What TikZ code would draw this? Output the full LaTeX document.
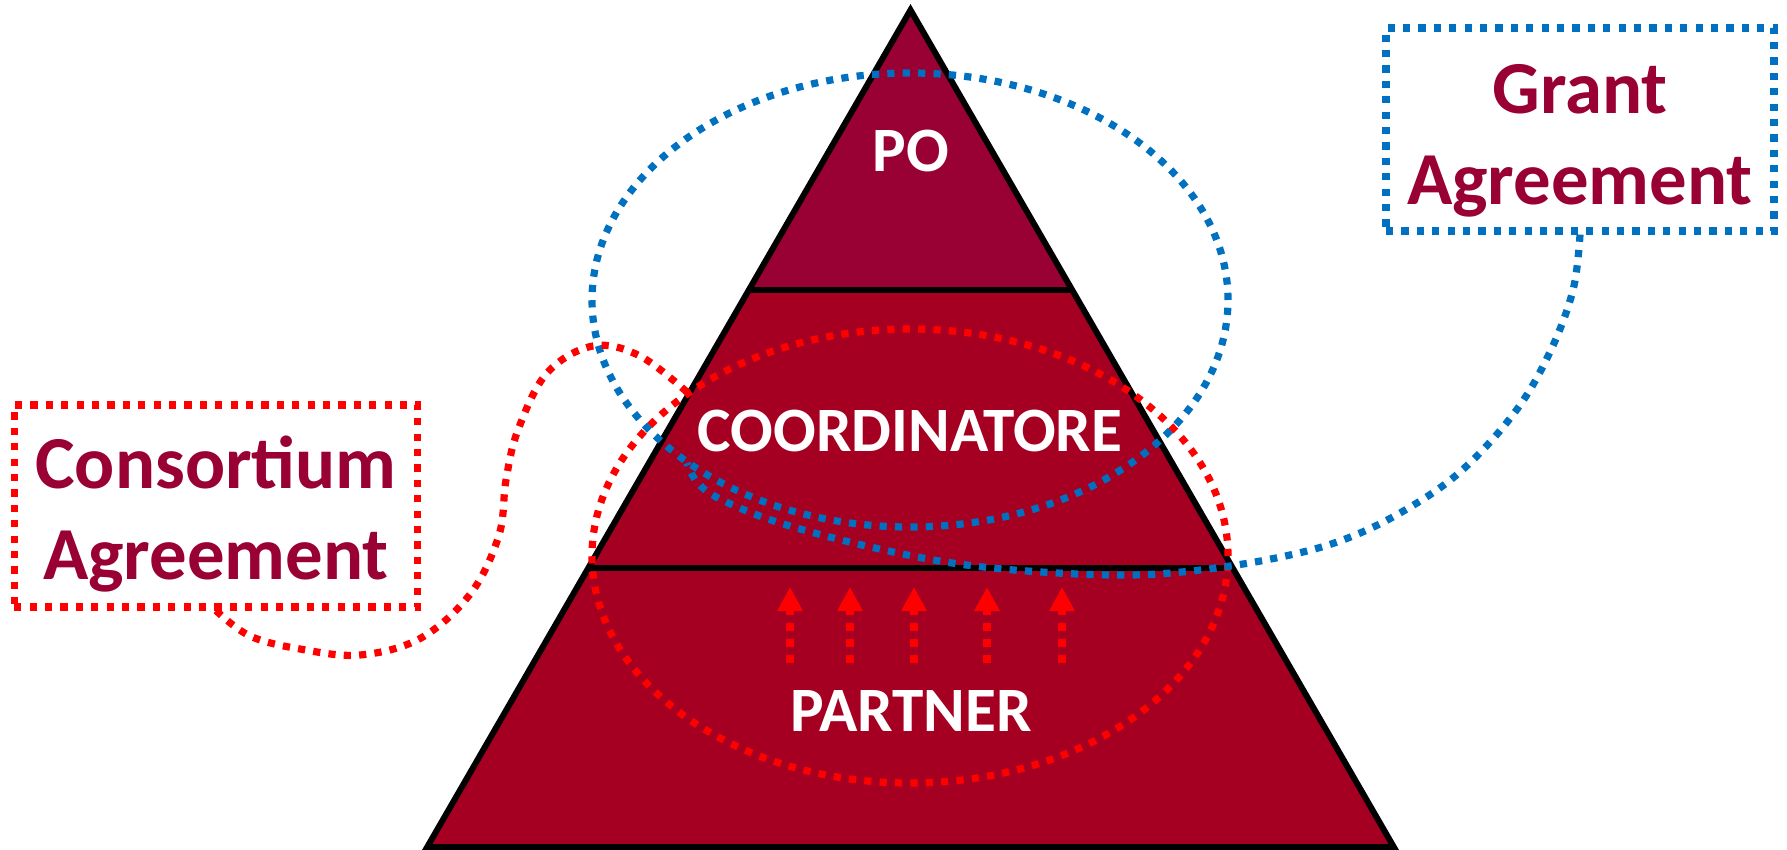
\documentclass[tikz,border=0pt]{standalone}
\usepackage{fontspec}
\setmainfont{Carlito}
\usetikzlibrary{arrows.meta}
\definecolor{poRed}{RGB}{153,0,51}
\definecolor{pyrRed}{RGB}{165,0,33}
\definecolor{agrBlue}{RGB}{0,112,192}
\definecolor{dotRed}{RGB}{255,0,0}
\begin{document}
\begin{tikzpicture}[x=0.5pt,y=-0.5pt,
  tri/.style={draw=black,line width=3pt,line join=miter},
  sqdot/.style={line width=3.6pt,dash pattern=on 3.6pt off 4.1pt},
  lbl/.style={font=\fontsize{31.6pt}{37pt}\selectfont\bfseries,text=white,anchor=base,inner sep=0pt},
  agr/.style={font=\fontsize{37.4pt}{45.5pt}\selectfont\bfseries,text=poRed,align=center,inner sep=0pt,sqdot},
  uparrow/.style={dotRed,line width=4pt,dash pattern=on 4pt off 4pt,-{Triangle[width=12pt,length=12pt]}}
]
\useasboundingbox (0,0) rectangle (1787,850);

% pyramid
\coordinate (apex) at (910.5,10);
\coordinate (bl) at (427.2,847);
\coordinate (br) at (1393.8,847);
\coordinate (l1a) at (749.1,289.5);
\coordinate (l1b) at (1071.9,289.5);
\coordinate (l2a) at (588.6,567.5);
\coordinate (l2b) at (1232.4,567.5);
\fill[pyrRed] (apex) -- (br) -- (bl) -- cycle;
\fill[poRed] (apex) -- (l1b) -- (l1a) -- cycle;
\draw[tri] (apex) -- (br) -- (bl) -- cycle;
\draw[tri] (l1a) -- (l1b);
\draw[tri] (l2a) -- (l2b);

% ellipses
\coordinate (redc) at (910,556);
\coordinate (bluec) at (910,300);
\draw[dotRed,sqdot] (redc) ellipse [x radius=159pt, y radius=113.5pt];
\draw[agrBlue,sqdot] (bluec) ellipse [x radius=159pt, y radius=113.5pt];

% agreement boxes
\node[agr,draw=dotRed,minimum width=201.75pt,minimum height=101pt] (cbox) at (216,506) {\rule{0pt}{0.93em}Consortium\\Agreement};
\node[agr,draw=agrBlue,minimum width=194pt,minimum height=101.5pt] (gbox) at (1580,129.5) {\rule{0pt}{0.95em}Grant\\Agreement};

% connectors
\coordinate (redend) at (688,393);
\coordinate (blueend) at (687,463);
\draw[dotRed,sqdot] plot[smooth,tension=0.6] coordinates {(cbox.south) (250,636) (300,649) (360,655) (421,638) (471,593) (499,535) (506,480) (518,430) (547,373) (593,346) (640,356) (redend)};
\draw[agrBlue,sqdot] plot[smooth,tension=0.6] coordinates {(gbox.south) (1573,290) (1550,352) (1515,412) (1460,472) (1400,513) (1340,541) (1276,558) (1200,570) (1130,575) (1041,572) (952,563) (862,545) (777,522) (720,499) (697,482) (blueend)};

% arrows
\foreach \x [count=\i] in {790,850,914,987,1062}{
  \coordinate (a\i) at (\x,663);
  \coordinate (b\i) at (\x,587);
  \draw[uparrow] (a\i) -- (b\i);
}

% labels
\node[lbl] (po) at (911,172) {PO};
\node[lbl] (coord) at (910,451.5) {COORDINATORE};
\node[lbl] (partner) at (911,731) {PARTNER};
\end{tikzpicture}
\end{document}
